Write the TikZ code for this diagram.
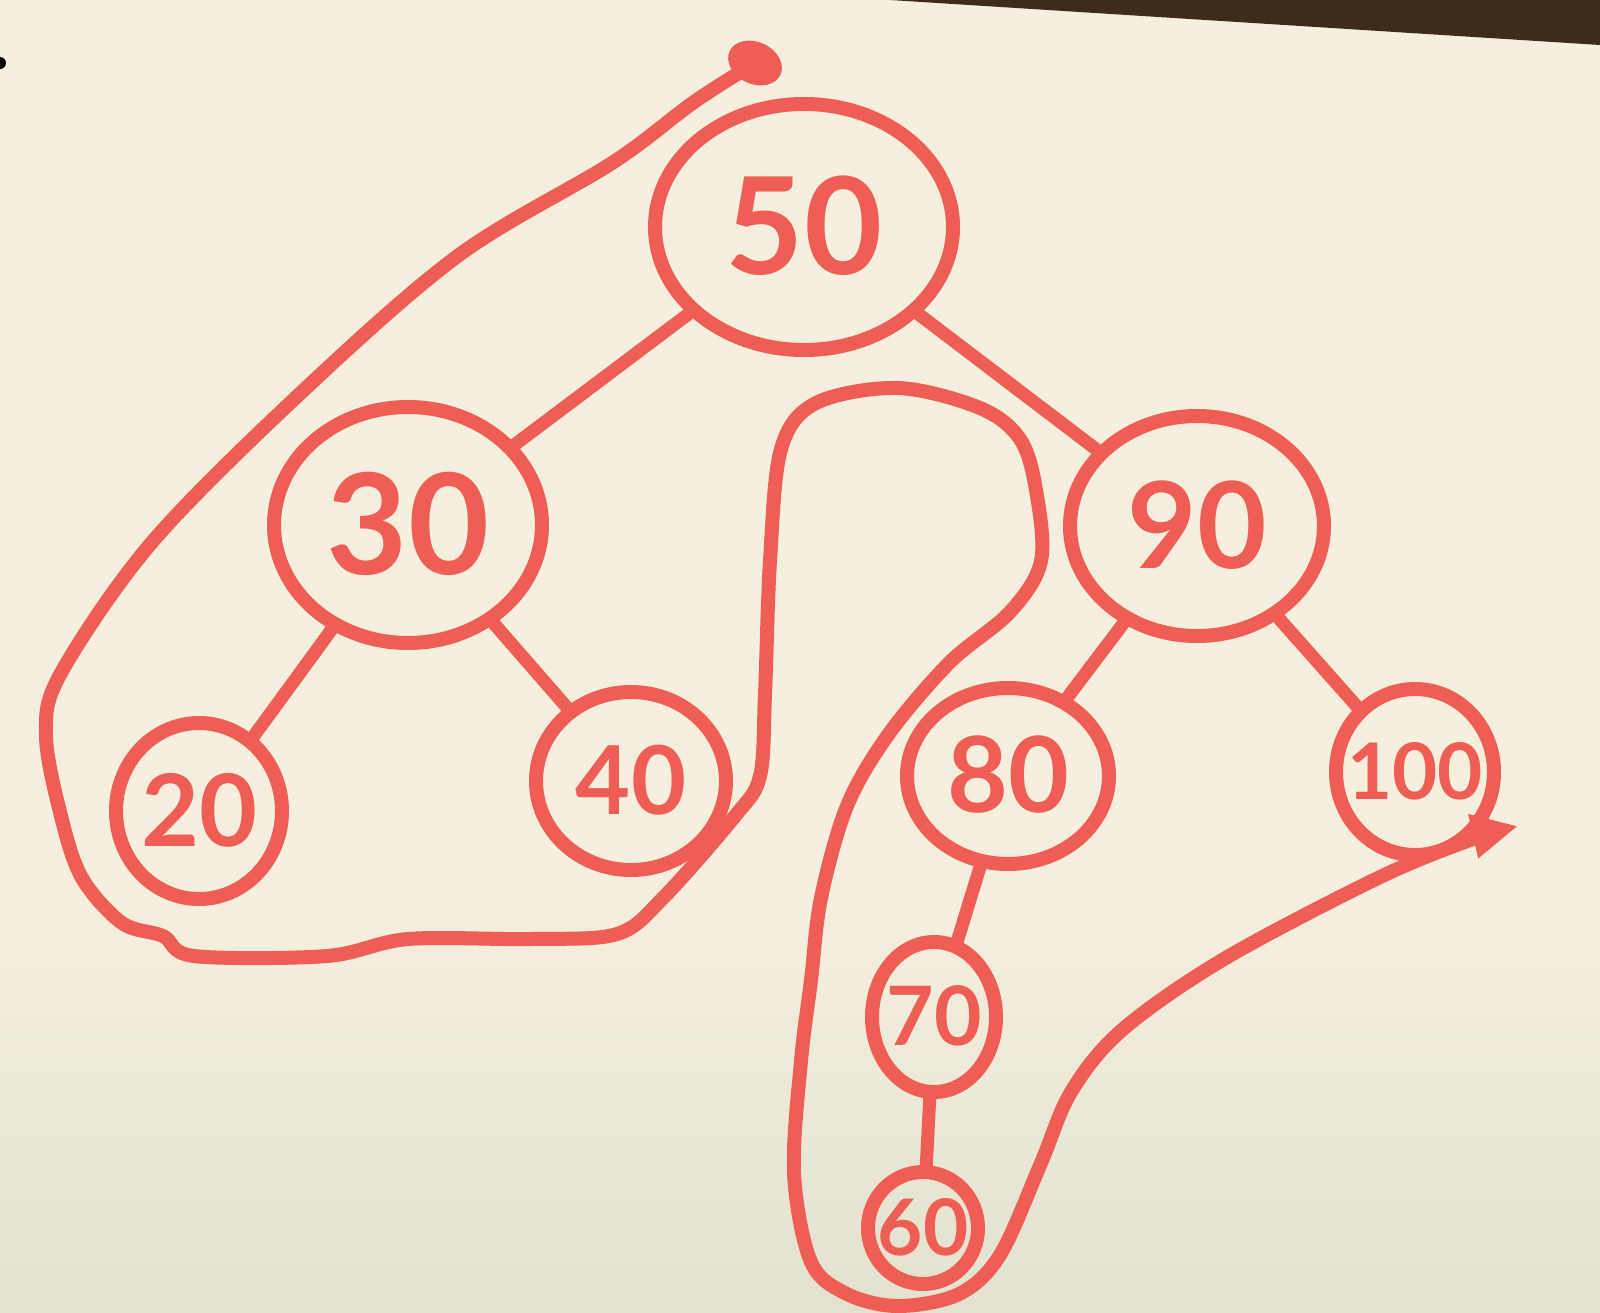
\documentclass[tikz,border=0pt]{standalone}
\usepackage{fontspec}
\setmainfont[Numbers=Lining]{Lato}
\usetikzlibrary{shapes.geometric,arrows.meta}
\definecolor{ink}{RGB}{238,94,84}
\definecolor{paper}{RGB}{246,239,222}
\definecolor{paperlow}{RGB}{226,226,206}
\definecolor{wood}{RGB}{62,44,26}
\newcommand{\nodetext}[1]{\smash{\makebox[0pt]{\raisebox{-0.35em}{#1}}}}
\begin{document}
\begin{tikzpicture}[x=1pt,y=-1pt,
  tnode/.style={ellipse, draw=ink, line width=14pt, text=ink, inner sep=0pt},
  fs/.style={font=\fontsize{#1}{#1}\selectfont\bfseries},
  edge/.style={draw=ink, line width=13pt, line cap=round},
  trail/.style={draw=ink, line width=14pt, line cap=round, line join=round}]
\useasboundingbox (0,0) rectangle (1600,1312);
\fill[paper] (0,0) rectangle (1600,1312);
\shade[top color=paper, bottom color=paperlow] (0,900) rectangle (1600,1312);
\fill[wood] (890,0) -- (1600,0) -- (1600,45) -- cycle;
\fill[black] (0,63) circle (6);
% nodes
\node[tnode, fs=135, minimum width=298pt, minimum height=246pt] (n50) at (804,227) {\nodetext{50}};
\node[tnode, fs=140, minimum width=268pt, minimum height=236pt] (n30) at (408,525) {\nodetext{30}};
\node[tnode, fs=100, minimum width=166pt, minimum height=176pt] (n20) at (199,811) {\nodetext{20}};
\node[tnode, fs=95, minimum width=190pt, minimum height=178pt] (n40) at (631,781) {\nodetext{40}};
\node[tnode, fs=120, minimum width=254pt, minimum height=220pt] (n90) at (1197,526) {\nodetext{90}};
\node[tnode, fs=105, minimum width=202pt, minimum height=176pt] (n80) at (1008,776) {\nodetext{80}};
\node[tnode, fs=78, minimum width=158pt, minimum height=166pt] (n100) at (1415,772) {\nodetext{100}};
\node[tnode, fs=82, minimum width=124pt, minimum height=150pt] (n70) at (934,1017) {\nodetext{70}};
\node[tnode, fs=78, minimum width=110pt, minimum height=112pt] (n60) at (923,1228) {\nodetext{60}};
% edges
\draw[edge] (n50) -- (n30);
\draw[edge] (n30) -- (n20);
\draw[edge] (n30) -- (n40);
\draw[edge] (n50) -- (n90);
\draw[edge] (n90) -- (n80);
\draw[edge] (n90) -- (n100);
\draw[edge] (n80) -- (n70);
\draw[edge] (n70) -- (n60);
% traversal
\coordinate (start) at (755,63);
\coordinate (finish) at (1518,826);
\fill[ink, rotate around={-25:(start)}] (start) ellipse (28 and 21);
\draw[trail, -{Triangle[length=46pt,width=42pt]}] plot[smooth, tension=0.55] coordinates {
 (start) (694,102) (612,163) (459,255) (306,388) (153,541) (61,673) (46,735)
 (61,816) (82,878) (122,923) (163,936) (194,956) (327,956) (408,939) (531,939)
 (617,934) (663,898) (735,816) (760,776) (765,694) (770,561) (781,449) (816,403)
 (898,388) (980,408) (1020,439) (1036,490) (1041,561) (1010,612) (949,663)
 (888,735) (847,806) (821,898) (811,980) (801,1061) (794,1173) (811,1262)
 (847,1294) (898,1306) (959,1294) (1000,1255) (1041,1163) (1071,1092)
 (1122,1030) (1224,959) (1378,878) (1470,840) (finish)};
\end{tikzpicture}
\end{document}
